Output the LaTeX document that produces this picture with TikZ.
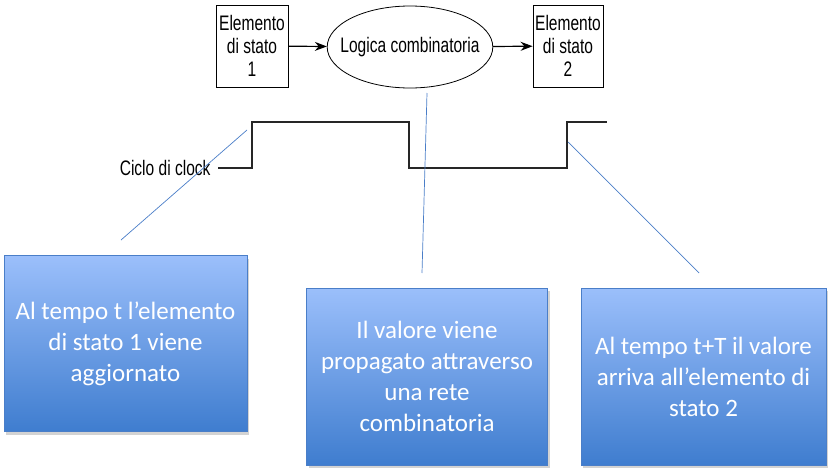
\documentclass[tikz,border=0pt]{standalone}
\usepackage{fontspec}
\usepackage{tikz}
\usetikzlibrary{arrows.meta,positioning,shapes.geometric,shadows}
\setmainfont{Carlito}
\newfontfamily\narrowsans[FakeStretch=0.74]{Liberation Sans}
\definecolor{BoxTop}{HTML}{9BBFFB}
\definecolor{BoxBottom}{HTML}{3F7DCF}
\definecolor{BoxEdge}{HTML}{4A7EC8}
\definecolor{PointerBlue}{HTML}{4A7EC8}

\tikzset{
  statebox/.style={draw, thick, minimum width=72pt, minimum height=82pt, align=center,
    font=\narrowsans\fontsize{21}{23}\selectfont, inner sep=1pt},
  logicbox/.style={draw, thick, ellipse, minimum width=164pt, minimum height=82pt,
    font=\narrowsans\fontsize{21}{23}\selectfont, inner xsep=-11pt, inner ysep=0pt},
  notebox/.style={draw=BoxEdge, top color=BoxTop, bottom color=BoxBottom, text=white,
    align=center, font=\fontsize{25}{31}\selectfont, inner sep=0pt,
    drop shadow={shadow xshift=2pt, shadow yshift=-3pt, opacity=0.35}},
  flowarrow/.style={line width=1.2pt, -{Stealth[length=12pt,width=9pt]}},
  pointer/.style={PointerBlue, line width=0.7pt},
  clockline/.style={line width=1.6pt, black!85}
}

\begin{document}
\begin{tikzpicture}[x=1pt, y=-1pt]
    \useasboundingbox (0,0) rectangle (829,471);

    % State elements and combinational logic
    \node[statebox] (stateA) at (252,46) {Elemento\\di stato\\1};
    \node[logicbox] (logic) at (410,47) {Logica combinatoria};
    \node[statebox, minimum width=70pt] (stateB) at (568,46) {Elemento\\di stato\\2};
    \draw[flowarrow] (stateA) -- (logic);
    \draw[flowarrow] (logic) -- (stateB);

    % Clock cycle
    \node[font=\narrowsans\fontsize{21}{23}\selectfont, anchor=east] (clocklabel) at (214,168) {Ciclo di clock};
    \draw[clockline] (218,168) -- (252,168) -- (252,122) -- (409,122) -- (409,168)
        -- (567,168) -- (567,122) -- (607,122);

    % Explanation boxes
    \node[notebox, minimum width=243pt, minimum height=176pt] (noteA) at (125.5,343.5)
        {Al tempo t l’elemento\\di stato 1 viene\\aggiornato};
    \node[notebox, minimum width=241pt, minimum height=177pt] (noteB) at (427,376.5)
        {Il valore viene\\propagato attraverso\\una rete\\combinatoria};
    \node[notebox, minimum width=245pt, minimum height=177pt] (noteC) at (703.5,376.5)
        {Al tempo t+T il valore\\arriva all’elemento di\\stato 2};

    % Pointers from the boxes to the clock edges
    \coordinate (edgeA) at (247,130);
    \coordinate (tailA) at (121,240);
    \coordinate (edgeB) at (427,93);
    \coordinate (tailB) at (422,273);
    \coordinate (edgeC) at (568,142);
    \coordinate (tailC) at (699,273);
    \draw[pointer] (tailA) -- (edgeA);
    \draw[pointer] (tailB) -- (edgeB);
    \draw[pointer] (tailC) -- (edgeC);

\end{tikzpicture}
\end{document}
